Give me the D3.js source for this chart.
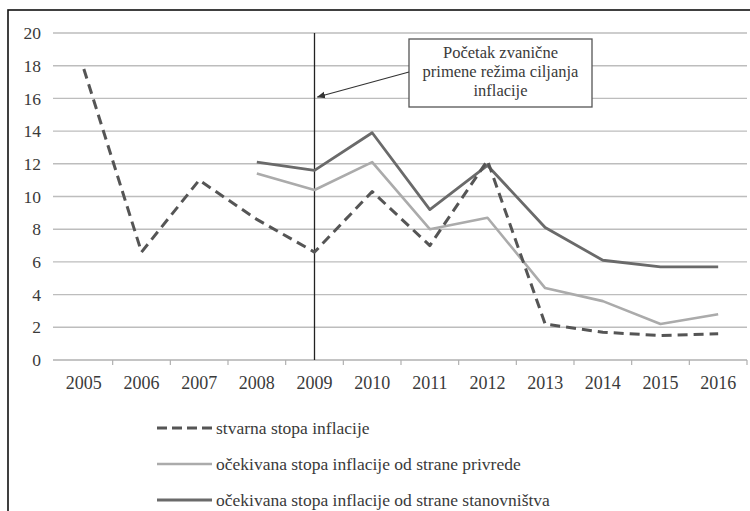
<!DOCTYPE html>
<html>
<head>
<meta charset="utf-8">
<script src="https://cdn.jsdelivr.net/npm/d3@7"></script>
<style>
  html, body { margin: 0; padding: 0; background: #fff; }
  svg { display: block; }
  text { font-family: "Liberation Serif", "Times New Roman", serif; fill: #3a3a3a; }
</style>
</head>
<body>
<svg id="chart" width="750" height="511"></svg>
<script>
// Inflation in Serbia, actual vs. expected (%)
const years = ["2005","2006","2007","2008","2009","2010","2011","2012","2013","2014","2015","2016"];
const actual = [17.8, 6.6, 11.0, 8.6, 6.6, 10.3, 7.0, 12.2, 2.2, 1.7, 1.5, 1.6];
const expectedBusiness = [null, null, null, 11.4, 10.4, 12.1, 8.0, 8.7, 4.4, 3.6, 2.2, 2.8];
const expectedHouseholds = [null, null, null, 12.1, 11.6, 13.9, 9.2, 11.9, 8.1, 6.1, 5.7, 5.7];
const yTicks = [0, 2, 4, 6, 8, 10, 12, 14, 16, 18, 20];
const legendLabels = [
  "stvarna stopa inflacije",
  "očekivana stopa inflacije od strane privrede",
  "očekivana stopa inflacije od strane stanovništva"
];
const noteLines = ["Početak zvanične", "primene režima ciljanja", "inflacije"];
const targetingStart = "2009";

const svg = d3.select("#chart");

// outer frame
svg.append("rect").attr("x", 8).attr("y", 10).attr("width", 760).attr("height", 520)
  .attr("fill", "none").attr("stroke", "#111").attr("stroke-width", 1.6);

const x = d3.scaleBand().domain(years).range([55, 747]);
const y = d3.scaleLinear().domain([0, 20]).range([360, 33]);

// horizontal gridlines
svg.append("g").selectAll("line").data(yTicks.filter(v => v > 0)).join("line")
  .attr("x1", 53).attr("x2", 747)
  .attr("y1", d => y(d)).attr("y2", d => y(d))
  .attr("stroke", "#bdbdbd").attr("stroke-width", 1.4);

// value labels
svg.append("g").selectAll("text").data(yTicks).join("text")
  .attr("x", 41).attr("y", d => y(d)).attr("dy", "0.35em")
  .attr("text-anchor", "end").attr("font-size", 17.5)
  .text(d => d);

// category axis
const xAxis = svg.append("g").attr("transform", "translate(0,360)");
xAxis.append("line").attr("x1", 53).attr("x2", 747).attr("stroke", "#b0b0b0").attr("stroke-width", 1.4);
const tickPos = years.map(d => x(d)).concat([x.range()[1]]).slice(1);
xAxis.selectAll("line.tick").data(tickPos).join("line").attr("class", "tick")
  .attr("x1", d => d).attr("x2", d => d).attr("y1", 0).attr("y2", 5)
  .attr("stroke", "#b0b0b0").attr("stroke-width", 1.2);
xAxis.selectAll("text").data(years).join("text")
  .attr("x", d => x(d) + x.bandwidth() / 2).attr("y", 29)
  .attr("text-anchor", "middle").attr("font-size", 18)
  .text(d => d);

// start of inflation targeting marker
const xStart = x(targetingStart) + x.bandwidth() / 2;
svg.append("line").attr("x1", xStart).attr("x2", xStart).attr("y1", y(20)).attr("y2", y(0))
  .attr("stroke", "#222").attr("stroke-width", 1.3);

const cx = d => x(d) + x.bandwidth() / 2;
const line = d3.line()
  .defined(d => d[1] != null)
  .x(d => cx(d[0]))
  .y(d => y(d[1]));

const series = [
  { values: expectedBusiness, color: "#ababab", width: 2.6, dash: null },
  { values: expectedHouseholds, color: "#6a6a6a", width: 2.8, dash: null },
  { values: actual, color: "#555", width: 3, dash: "10,6" }
];
series.forEach(s => {
  svg.append("path")
    .datum(years.map((yr, i) => [yr, s.values[i]]))
    .attr("d", line)
    .attr("fill", "none")
    .attr("stroke", s.color)
    .attr("stroke-width", s.width)
    .attr("stroke-linejoin", "round")
    .attr("stroke-dasharray", s.dash);
});

// annotation box with arrow
const box = { x: 409, y: 39, w: 183, h: 68 };
svg.append("rect").attr("x", box.x).attr("y", box.y).attr("width", box.w).attr("height", box.h)
  .attr("fill", "#fff").attr("stroke", "#555").attr("stroke-width", 1.3);
svg.append("g").selectAll("text").data(noteLines).join("text")
  .attr("x", box.x + box.w / 2).attr("y", (d, i) => box.y + 19 + i * 19)
  .attr("text-anchor", "middle").attr("font-size", 16.5)
  .text(d => d);

svg.append("defs").append("marker")
  .attr("id", "arrowhead").attr("viewBox", "0 0 10 10")
  .attr("refX", 9).attr("refY", 5).attr("markerWidth", 7).attr("markerHeight", 7)
  .attr("orient", "auto")
  .append("path").attr("d", "M0,1 L10,5 L0,9 Z").attr("fill", "#333");
svg.append("line")
  .attr("x1", box.x).attr("y1", 72).attr("x2", xStart + 3).attr("y2", 97)
  .attr("stroke", "#333").attr("stroke-width", 1.2)
  .attr("marker-end", "url(#arrowhead)");

// legend
const legendRows = [
  { label: legendLabels[0], color: "#555", width: 3, dash: "10,5" },
  { label: legendLabels[1], color: "#ababab", width: 2.6, dash: null },
  { label: legendLabels[2], color: "#6a6a6a", width: 2.8, dash: null }
];
const lg = svg.append("g").selectAll("g").data(legendRows).join("g")
  .attr("transform", (d, i) => `translate(157,${428 + i * 36})`);
lg.append("line").attr("x1", 0).attr("x2", 55).attr("y1", 0).attr("y2", 0)
  .attr("stroke", d => d.color).attr("stroke-width", d => d.width)
  .attr("stroke-dasharray", d => d.dash);
lg.append("text").attr("x", 59).attr("y", 0).attr("dy", "0.35em")
  .attr("font-size", 17.5).text(d => d.label);
</script>
</body>
</html>
